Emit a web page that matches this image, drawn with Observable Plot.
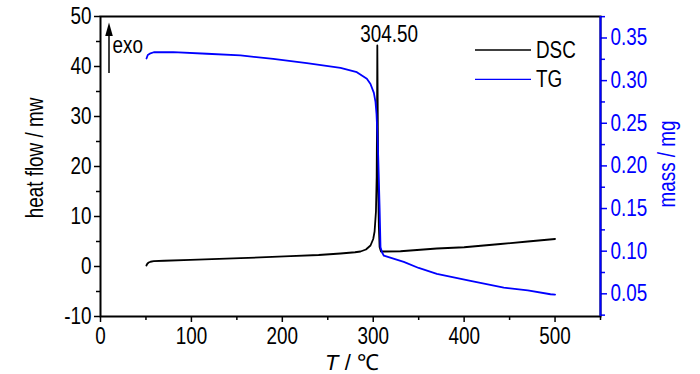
<!DOCTYPE html>
<html><head><meta charset="utf-8">
<script src="https://cdn.jsdelivr.net/npm/d3@7"></script>
<script src="https://cdn.jsdelivr.net/npm/@observablehq/plot@0.6"></script>
<style>
html,body{margin:0;padding:0;background:#fff;}
#chart svg{display:block;}
</style>
</head><body><div id="chart"></div>
<script>
// ---- data ----
const dscT = [50.5, 51.5, 53, 55, 58.6, 70, 99, 154, 209, 240, 264, 280, 286, 292, 297, 300, 301.5, 303, 303.8, 304.2, 304.5, 305, 305.5, 306.2, 307, 308.5, 311.7, 330, 370, 400, 440, 470, 500];
const dscV = [0.2, 0.55, 0.8, 0.95, 1.06, 1.15, 1.33, 1.66, 2.07, 2.3, 2.6, 2.85, 3.0, 3.4, 4.2, 5.5, 7.0, 11, 18, 30, 44.2, 30, 15, 7.9, 3.9, 3.0, 3.0, 3.05, 3.6, 3.85, 4.5, 5.0, 5.5];
const tgT = [50.6, 52, 55, 58.6, 80, 117, 154, 190, 227, 264, 282, 293, 297, 300.7, 302.5, 303.6, 304.5, 305.5, 307, 308, 309.9, 311.7, 333.6, 350, 370, 407, 443.6, 470, 495, 500];
const tgM = [0.326, 0.330, 0.332, 0.3333, 0.3335, 0.3315, 0.3295, 0.3256, 0.3205, 0.315, 0.3099, 0.3021, 0.296, 0.2856, 0.275, 0.2611, 0.24, 0.2102, 0.1516, 0.1046, 0.0982, 0.0947, 0.0875, 0.0803, 0.0735, 0.0651, 0.0573, 0.054, 0.0495, 0.049];

const xTicks = [0, 100, 200, 300, 400, 500];
const xMinor = [50, 150, 250, 350, 450, 550];
const yTicks = [-10, 0, 10, 20, 30, 40, 50];
const yMinor = [-5, 5, 15, 25, 35, 45];
const massTicks = [0.05, 0.10, 0.15, 0.20, 0.25, 0.30, 0.35];
const massMinor = [0.025, 0.075, 0.125, 0.175, 0.225, 0.275, 0.325, 0.375];

const seriesNames = ["DSC", "TG"];
const seriesColors = ["#000000", "#0000ff"];
const peakT = [304.5];
const peakV = [44.2];
const peakLabels = ["304.50"];
const exoLabel = "exo";
const xLabel = ["T", " / ℃"];
const yLabel = "heat flow / mw";
const y2Label = "mass / mg";

const xDomain = [0, 550];
const yDomain = [-10, 50];
const massDomain = [0.0234, 0.3752];

// ---- helpers: map mass onto the left (heat flow) scale ----
const toLeft = m => yDomain[0] + (m - massDomain[0]) / (massDomain[1] - massDomain[0]) * (yDomain[1] - yDomain[0]);
const fromLeft = v => massDomain[0] + (v - yDomain[0]) / (yDomain[1] - yDomain[0]) * (massDomain[1] - massDomain[0]);

const dsc = dscT.map((t, i) => ({T: t, v: dscV[i]}));
const tg = tgT.map((t, i) => ({T: t, v: toLeft(tgM[i])}));
const peaks = peakT.map((t, i) => ({T: t, v: peakV[i], label: peakLabels[i]}));

const FONT = "'Liberation Sans', Arial, sans-serif";
const FS = 23;
const NARROW = 0.82;
const W = 700, H = 374, ML = 100, MR = 100, MT = 16, MB = 58;

const chart = Plot.plot({
  width: W, height: H,
  marginLeft: ML, marginRight: MR, marginTop: MT, marginBottom: MB,
  style: {fontFamily: FONT, fontSize: FS + "px", background: "#fff", color: "#000"},
  x: {domain: xDomain},
  y: {domain: yDomain},
  marks: [
    Plot.axisX({ticks: xTicks, tickSize: 6, tickPadding: 5, strokeWidth: 1.5, fontSize: FS, label: null, tickFormat: d => String(d)}),
    Plot.axisX({ticks: xMinor, tickSize: 4, strokeWidth: 1.5, text: null, label: null}),
    Plot.axisY({ticks: yTicks, tickSize: 6, tickPadding: 3, strokeWidth: 1.5, fontSize: FS, label: null, tickFormat: d => String(d)}),
    Plot.axisY({ticks: yMinor, tickSize: 4, strokeWidth: 1.5, text: null, label: null}),
    Plot.axisY(massTicks.map(toLeft), {anchor: "right", tickSize: 6, tickPadding: 4, strokeWidth: 1.5, fontSize: FS, stroke: seriesColors[1], fill: seriesColors[1], label: null, tickFormat: d => d3.format(".2f")(fromLeft(d))}),
    Plot.axisY(massMinor.map(toLeft), {anchor: "right", tickSize: 4, strokeWidth: 1.5, stroke: seriesColors[1], text: null, label: null}),
    Plot.frame({stroke: "#000", strokeWidth: 2}),
    Plot.ruleX([xDomain[1]], {stroke: seriesColors[1], strokeWidth: 2}),
    Plot.line(dsc, {x: "T", y: "v", stroke: seriesColors[0], strokeWidth: 1.8}),
    Plot.line(tg, {x: "T", y: "v", stroke: seriesColors[1], strokeWidth: 1.8}),
    Plot.text(peaks, {x: "T", y: "v", text: "label", textAnchor: "start", lineAnchor: "bottom", dx: -17, dy: -4, fontSize: FS, fill: "#000"})
  ]
});

document.getElementById("chart").appendChild(chart);

// ---- annotations drawn in pixel space ----
const svg = d3.select(chart);
const g = svg.append("g").attr("font-family", FONT).attr("font-size", FS).attr("text-anchor", "start");

// exo arrow
g.append("line").attr("x1", 109).attr("x2", 109).attr("y1", 73).attr("y2", 33)
  .attr("stroke", "#000").attr("stroke-width", 1.5);
g.append("path").attr("d", "M109,22.5 L112.8,36 L105.2,36 Z").attr("fill", "#000");
g.append("text").attr("x", 112.5).attr("y", 52.5).text(exoLabel);

// legend
seriesNames.forEach((name, i) => {
  const y = 50 + i * 29.3;
  g.append("line").attr("x1", 475).attr("x2", 531).attr("y1", y).attr("y2", y)
    .attr("stroke", seriesColors[i]).attr("stroke-width", 1.3);
  g.append("text").attr("x", 536).attr("y", y + 7.8).attr("fill", "#000").text(name);
});

// y labels
g.append("text").attr("transform", "translate(43,158) rotate(-90)").attr("text-anchor", "middle").text(yLabel);
g.append("text").attr("transform", "translate(675,164) rotate(-90)").attr("text-anchor", "middle").attr("fill", seriesColors[1]).text(y2Label);

// narrow the sans face like the reference's condensed lettering
svg.selectAll("text").each(function() {
  const w = this.getComputedTextLength();
  if (w > 0) {
    this.setAttribute("textLength", (w * NARROW).toFixed(2));
    this.setAttribute("lengthAdjust", "spacingAndGlyphs");
  }
});

// x label with italic T (left at natural width)
const xl = g.append("text").attr("x", 352).attr("y", 370).attr("text-anchor", "middle").attr("font-size", 22);
xl.append("tspan").attr("font-style", "italic").text(xLabel[0]);
xl.append("tspan").text(xLabel[1]);
</script>
</body></html>
